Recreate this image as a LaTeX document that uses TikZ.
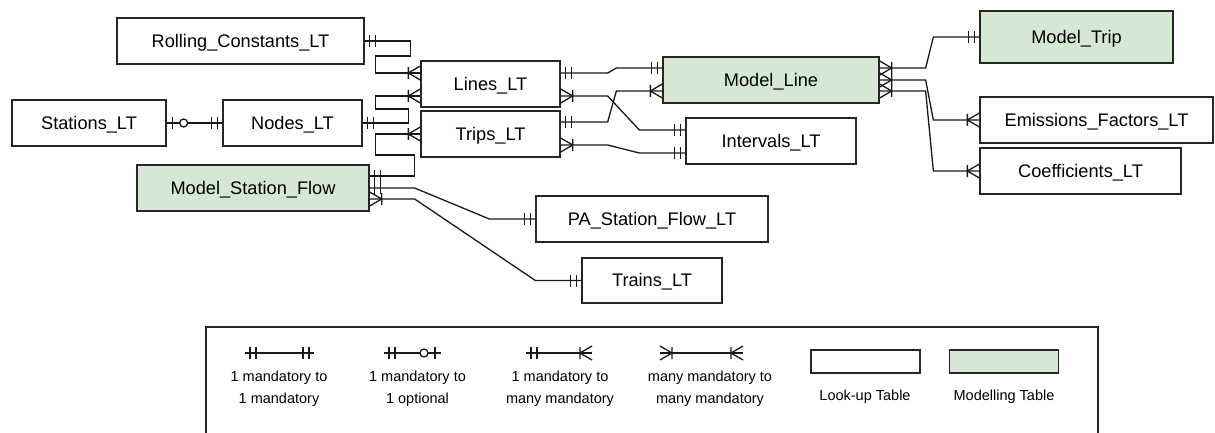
\documentclass[tikz,border=0pt]{standalone}
\usepackage{fontspec}
\setmainfont{Liberation Sans}
\usetikzlibrary{calc,arrows.meta}

\definecolor{modelgreen}{HTML}{D5E8D4}

\pgfdeclarearrow{
  name=ERone,
  setup code={
    \pgfarrowssettipend{0pt}
    \pgfarrowssetlineend{0pt}
    \pgfarrowssetbackend{-12pt}
    \pgfarrowshullpoint{0pt}{6pt}
    \pgfarrowshullpoint{-12pt}{6pt}
    \pgfarrowshullpoint{-12pt}{-6pt}
    \pgfarrowshullpoint{0pt}{-6pt}
  },
  drawing code={
    \pgfpathmoveto{\pgfpoint{-5pt}{6pt}}
    \pgfpathlineto{\pgfpoint{-5pt}{-6pt}}
    \pgfpathmoveto{\pgfpoint{-11pt}{6pt}}
    \pgfpathlineto{\pgfpoint{-11pt}{-6pt}}
    \pgfusepathqstroke
  }
}
\pgfdeclarearrow{
  name=ERmany,
  setup code={
    \pgfarrowssettipend{0pt}
    \pgfarrowssetlineend{0pt}
    \pgfarrowssetbackend{-12pt}
    \pgfarrowshullpoint{0pt}{7pt}
    \pgfarrowshullpoint{-12pt}{7pt}
    \pgfarrowshullpoint{-12pt}{-7pt}
    \pgfarrowshullpoint{0pt}{-7pt}
  },
  drawing code={
    \pgfsetroundjoin
    \pgfpathmoveto{\pgfpoint{0pt}{7pt}}
    \pgfpathlineto{\pgfpoint{-12pt}{0pt}}
    \pgfpathlineto{\pgfpoint{0pt}{-7pt}}
    \pgfpathmoveto{\pgfpoint{-12pt}{6pt}}
    \pgfpathlineto{\pgfpoint{-12pt}{-6pt}}
    \pgfusepathqstroke
  }
}
\pgfdeclarearrow{
  name=ERzeroone,
  setup code={
    \pgfarrowssettipend{0pt}
    \pgfarrowssetlineend{-21pt}
    \pgfarrowssetbackend{-21pt}
    \pgfarrowshullpoint{0pt}{6pt}
    \pgfarrowshullpoint{-21pt}{6pt}
    \pgfarrowshullpoint{-21pt}{-6pt}
    \pgfarrowshullpoint{0pt}{-6pt}
  },
  drawing code={
    \pgfpathmoveto{\pgfpoint{0pt}{0pt}}
    \pgfpathlineto{\pgfpoint{-13pt}{0pt}}
    \pgfpathmoveto{\pgfpoint{-6pt}{6pt}}
    \pgfpathlineto{\pgfpoint{-6pt}{-6pt}}
    \pgfusepathqstroke
    \pgfpathcircle{\pgfpoint{-17pt}{0pt}}{4pt}
    \pgfusepathqstroke
  }
}

\tikzset{
  tbl/.style={draw=black!85, line width=1.3pt, inner sep=0pt, minimum height=46pt,
    text height=12.9pt, text depth=0pt,
    font=\fontsize{18.2pt}{22pt}\selectfont},
  lt/.style={tbl, fill=white},
  mt/.style={tbl, fill=modelgreen},
  conn/.style={draw=black!90, line width=1.3pt},
  legtext/.style={inner sep=0pt, align=center, font=\fontsize{14.5pt}{22pt}\selectfont},
  swatch/.style={draw=black!85, line width=1.3pt, inner sep=0pt, minimum width=109pt, minimum height=23pt}
}

\begin{document}
\begin{tikzpicture}[x=1pt, y=-1pt]
\useasboundingbox (0,0) rectangle (1215,433);
\clip (0,0) rectangle (1215,433);

% tables
\node[lt, minimum width=247pt] (RC) at (240.5,41) {Rolling\_Constants\_LT};
\node[lt, minimum width=154pt] (ST) at (89,123) {Stations\_LT};
\node[lt, minimum width=139pt] (ND) at (292.5,123) {Nodes\_LT};
\node[mt, minimum width=232pt] (MSF) at (253,188) {Model\_Station\_Flow};
\node[lt, minimum width=139pt] (LN) at (490.5,84) {Lines\_LT};
\node[lt, minimum width=139pt] (TR) at (490.5,134) {Trips\_LT};
\node[mt, minimum width=216pt] (ML) at (771,80) {Model\_Line};
\node[lt, minimum width=170pt] (IV) at (771,141) {Intervals\_LT};
\node[mt, minimum width=193pt, minimum height=52pt] (MT) at (1076.5,37) {Model\_Trip};
\node[lt, minimum width=233pt] (EF) at (1096.5,120) {Emissions\_Factors\_LT};
\node[lt, minimum width=201pt] (CO) at (1080.5,171) {Coefficients\_LT};
\node[lt, minimum width=232pt] (PA) at (652,219) {PA\_Station\_Flow\_LT};
\node[lt, minimum width=140pt, minimum height=45pt] (TN) at (652,280.5) {Trains\_LT};

% connectors
\draw[conn, {ERone}-{ERmany}] (RC.east) -- ++(46,0) -- ++(0,15) -- ++(-35,0) |- ($(LN.west)+(0,-11)$);
\draw[conn, {ERone}-{ERmany}] (ND.east) -- ++(46,0) -- ++(0,-14) -- ++(-33,0) |- ($(LN.west)+(0,12)$);
\draw[conn, {ERone}-{ERmany}] ($(MSF.east)+(0,-12)$) -- ++(45,0) -- ++(0,-21) -- ++(-39,0) |- (TR.west);
\draw[conn, {ERone}-{ERone}] (MSF.east) -- ++(45,0) -- ($(PA.west)+(-46,0)$) -- (PA.west);
\draw[conn, {ERmany}-{ERone}] ($(MSF.east)+(0,11)$) -- ++(45,0) -- ($(TN.west)+(-46,0)$) -- (TN.west);
\draw[conn, {ERzeroone}-{ERone}] (ST.east) -- (ND.west);

\draw[conn, {ERone}-{ERone}] ($(LN.east)+(0,-11)$) -- ++(47,0) -- ($(ML.west)+(-46,-12)$) -- ($(ML.west)+(0,-12)$);
\draw[conn, {ERmany}-{ERone}] ($(LN.east)+(0,12)$) -- ++(47,0) -- ($(IV.west)+(-46,-11)$) -- ($(IV.west)+(0,-11)$);
\draw[conn, {ERone}-{ERmany}] ($(TR.east)+(0,-12)$) -- ++(47,0) -- ($(ML.west)+(-46,11)$) -- ($(ML.west)+(0,11)$);
\draw[conn, {ERmany}-{ERone}] ($(TR.east)+(0,11)$) -- ++(47,0) -- ($(IV.west)+(-46,12)$) -- ($(IV.west)+(0,12)$);

\draw[conn, {ERmany}-{ERone}] ($(ML.east)+(0,-12)$) -- ++(46,0) -- ($(MT.west)+(-46,0)$) -- (MT.west);
\draw[conn, {ERmany}-{ERmany}] (ML.east) -- ++(46,0) -- ($(EF.west)+(-46,0)$) -- (EF.west);
\draw[conn, {ERmany}-{ERmany}] ($(ML.east)+(0,11)$) -- ++(46,0) -- ($(CO.west)+(-46,0)$) -- (CO.west);

% legend
\draw[line width=1.3pt, draw=black!85] (206,327) rectangle (1098,450);
\coordinate (a1) at (245,353); \coordinate (b1) at (314,353);
\coordinate (a2) at (384,353); \coordinate (b2) at (441,353);
\coordinate (a3) at (526,353); \coordinate (b3) at (592,353);
\coordinate (a4) at (660,353); \coordinate (b4) at (743,353);
\draw[conn, {ERone}-{ERone}] (a1) -- (b1);
\draw[conn, {ERone}-{ERzeroone}] (a2) -- (b2);
\draw[conn, {ERone}-{ERmany}] (a3) -- (b3);
\draw[conn, {ERmany}-{ERmany}] (a4) -- (b4);
\node[legtext] (l1) at (279,389) {1 mandatory to\\1 mandatory};
\node[legtext] (l2) at (417.5,389) {1 mandatory to\\1 optional};
\node[legtext] (l3) at (560,389) {1 mandatory to\\many mandatory};
\node[legtext] (l4) at (710,389) {many mandatory to\\many mandatory};
\node[swatch, fill=white] (sw1) at (865.5,361.5) {};
\node[swatch, fill=modelgreen] (sw2) at (1004,361.5) {};
\node[legtext] (l5) at (865,397) {Look-up Table};
\node[legtext] (l6) at (1004,397) {Modelling Table};
\end{tikzpicture}
\end{document}
